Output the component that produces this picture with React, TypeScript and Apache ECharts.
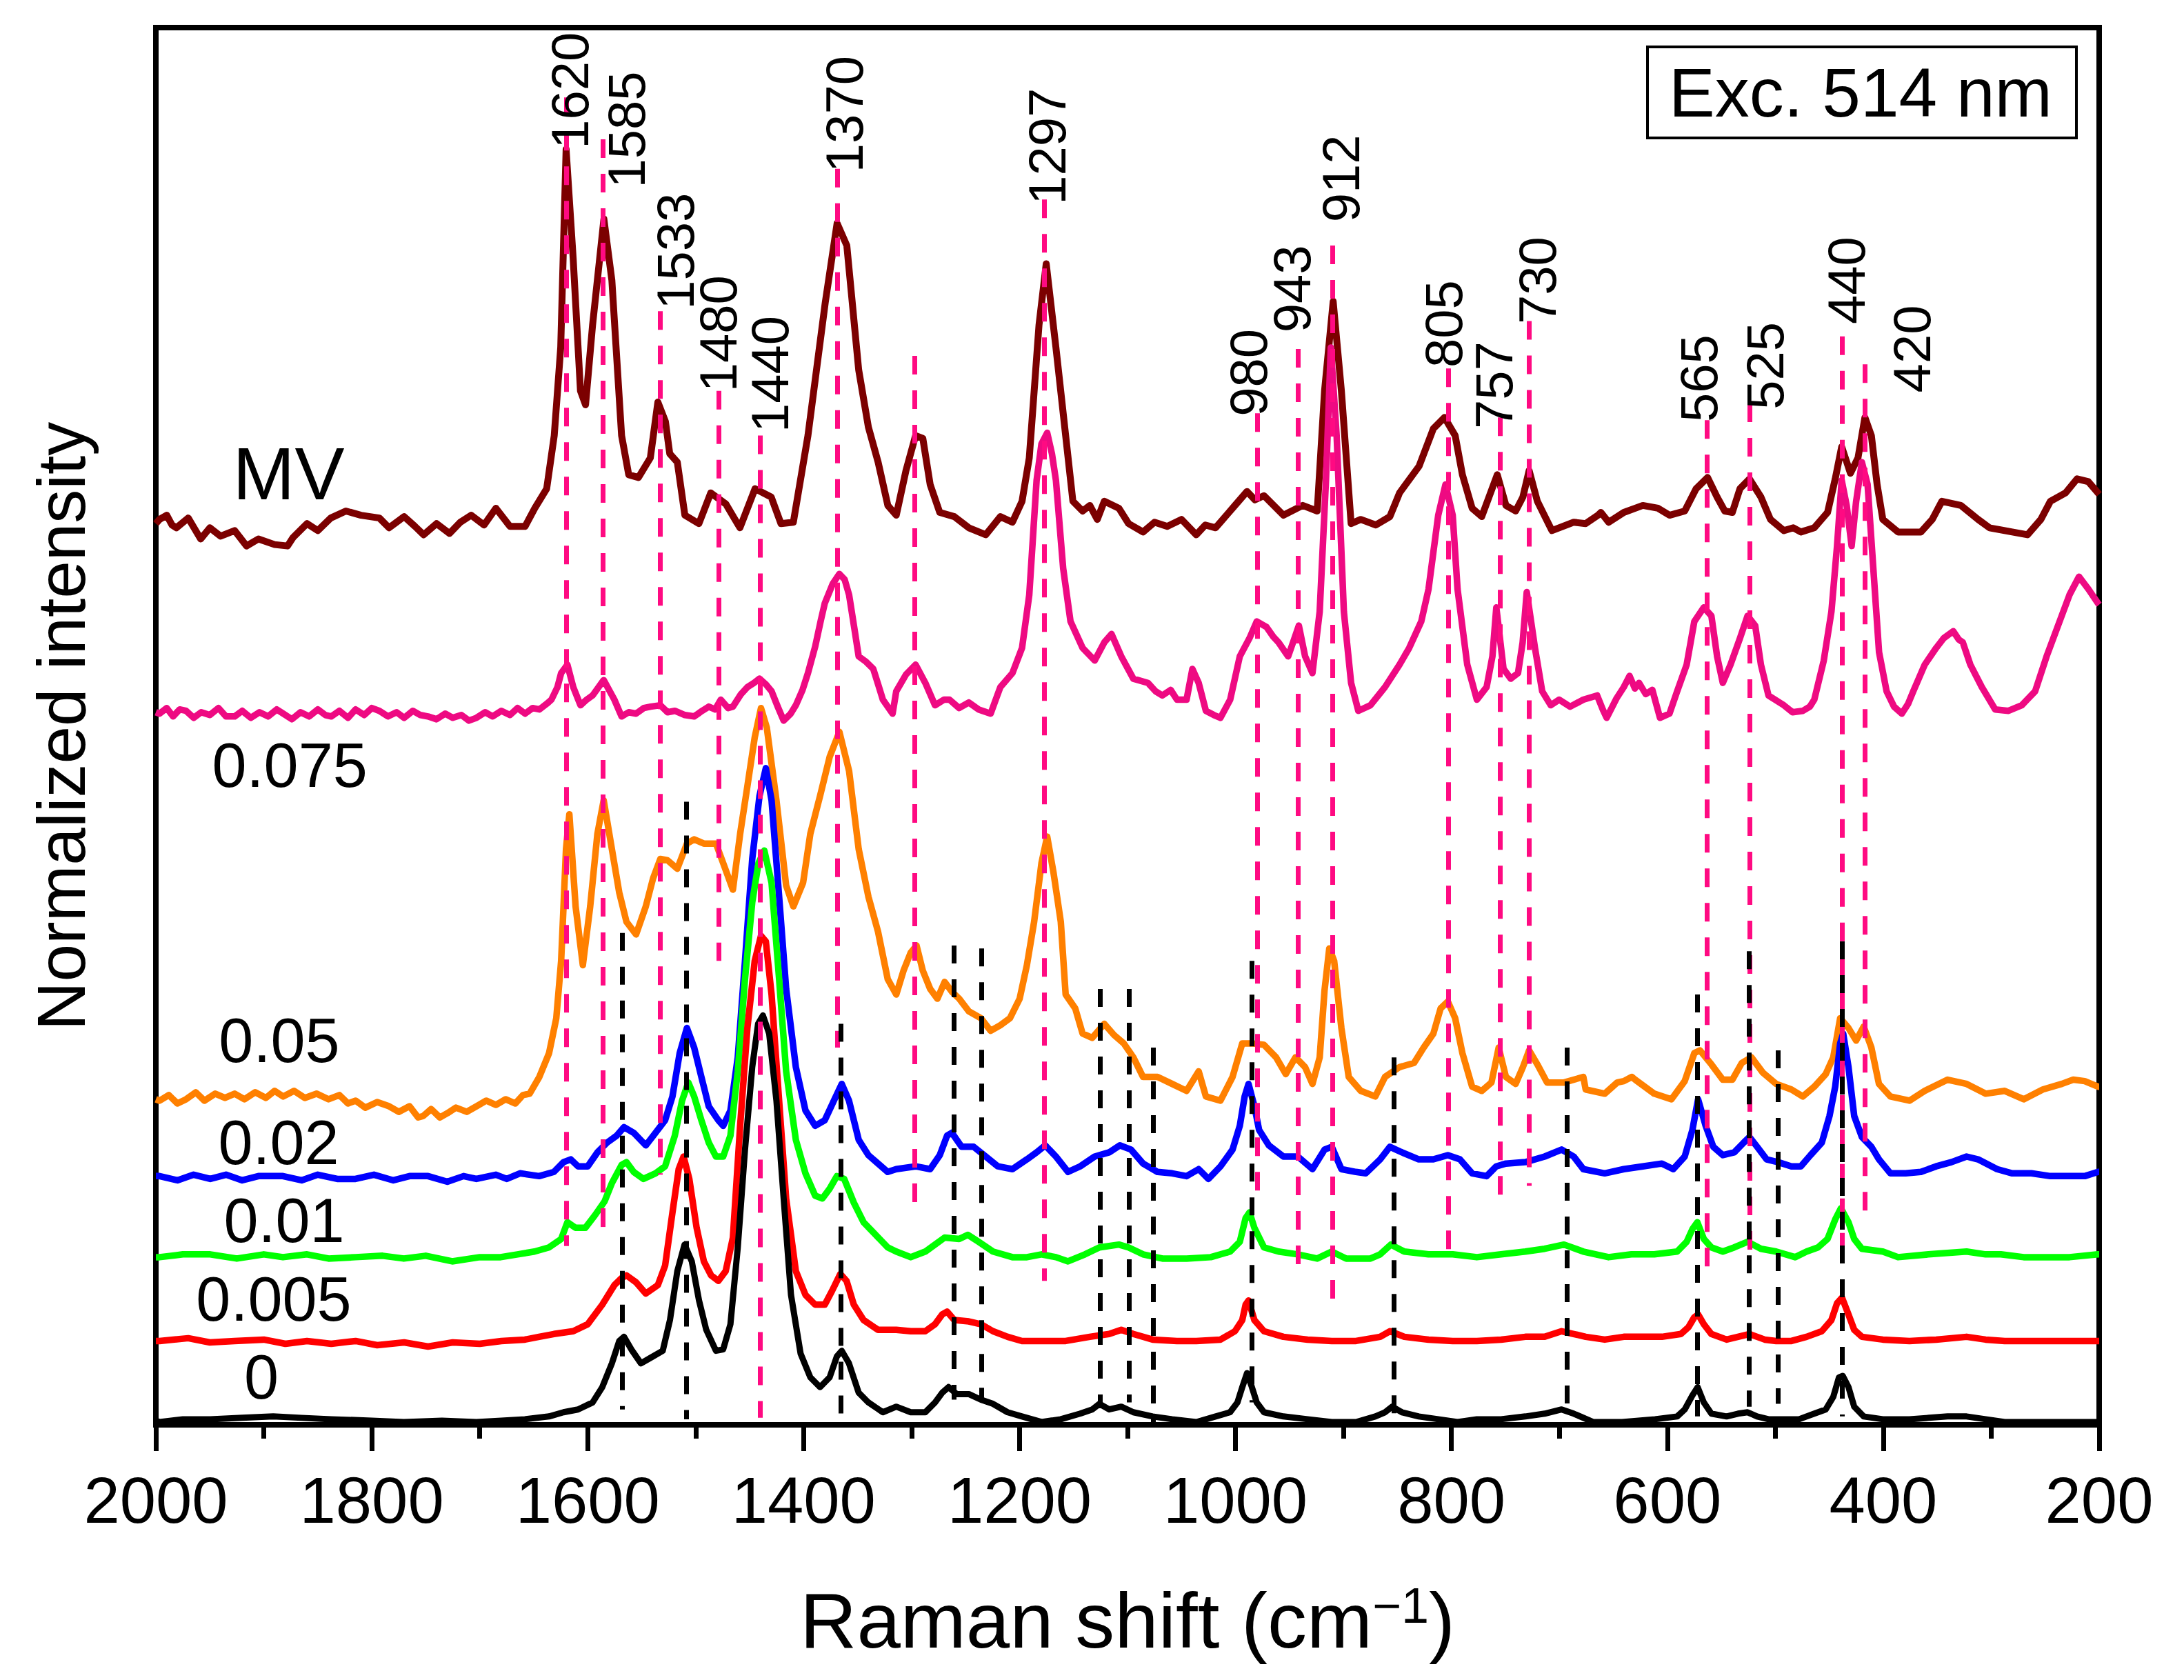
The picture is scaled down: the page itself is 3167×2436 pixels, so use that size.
import React, { useEffect, useRef } from "react";
import * as echarts from "echarts";

// Raman spectra: [Raman shift (cm-1), normalized intensity incl. offset]
const mvData: [number, number][] = [
  [2000, 64.5], [1996.6, 64.8], [1989.9, 65.1], [1985, 64.4], [1981, 64.2], [1970, 64.9], [1958.5, 63.4], [1950, 64.2],
  [1940, 63.6], [1927, 64.0], [1916, 62.9], [1905, 63.4], [1890, 63.0], [1878, 62.9], [1873, 63.5], [1860, 64.5],
  [1850, 64.0], [1838, 64.9], [1824, 65.4], [1810, 65.1], [1793, 64.9], [1784, 64.2], [1770, 65.0], [1760, 64.3],
  [1752, 63.7], [1740, 64.5], [1728, 63.8], [1718, 64.6], [1708, 65.1], [1696, 64.4], [1685, 65.6], [1672, 64.3],
  [1658, 64.3], [1649, 65.6], [1638, 67.0], [1631, 70.8], [1625, 77.1], [1620, 91.3], [1613.4, 83.4], [1606.7, 74.0],
  [1602, 73.0], [1595.5, 78.7], [1585, 86.3], [1577.6, 81.9], [1568.6, 70.8], [1562, 68.0], [1553, 67.8], [1542, 69.2],
  [1535, 73.2], [1528, 71.8], [1524, 69.5], [1517, 68.9], [1510, 65.1], [1497, 64.5], [1486, 66.7], [1472, 65.9],
  [1459, 64.2], [1445, 67.0], [1430, 66.4], [1421, 64.5], [1409.5, 64.6], [1396, 70.8], [1380, 80.3], [1369, 86.0],
  [1360, 84.4], [1349, 75.5], [1340, 71.4], [1331, 68.9], [1322, 65.8], [1314.2, 65.1], [1305.2, 68.3], [1296.3, 70.8],
  [1289.6, 70.6], [1282.8, 67.3], [1273.9, 65.3], [1260.4, 65.0], [1247, 64.2], [1231.3, 63.7], [1217.8, 65.0],
  [1206.6, 64.6], [1197.7, 66.1], [1191, 69.2], [1182, 78.7], [1175.3, 83.1], [1166.3, 77.1], [1157.3, 70.8],
  [1150.6, 66.1], [1141.6, 65.4], [1134.9, 65.8], [1128, 64.8], [1121.5, 66.1], [1108, 65.6], [1099, 64.5],
  [1085.6, 63.9], [1075, 64.6], [1063.2, 64.3], [1050, 64.8], [1036.3, 63.7], [1028, 64.4], [1018.4, 64.2],
  [1000.5, 65.8], [989.3, 66.8], [982, 66.2], [973.6, 66.5], [955.6, 65.1], [937.7, 65.8], [924.3, 65.4],
  [917.5, 74.0], [909.5, 80.4], [901.9, 74.0], [892.9, 64.5], [884, 64.8], [870, 64.4], [857, 65.0], [848, 66.7],
  [830, 68.6], [816.7, 71.3], [806.4, 72.1], [796.5, 70.8], [789.8, 68.0], [780.8, 65.6], [771.9, 65.0], [765.2, 66.4],
  [757.5, 68.0], [749.5, 65.8], [740.5, 65.4], [733.8, 66.4], [728, 68.3], [720.4, 66.1], [706.9, 64.0], [686.7, 64.6],
  [675.6, 64.5], [664.3, 65.1], [661.5, 65.3], [654.4, 64.6], [640.3, 65.3], [622.7, 65.8], [608.6, 65.6], [598, 65.1],
  [583.9, 65.4], [573.3, 67.0], [562.7, 67.8], [553.9, 66.4], [546.8, 65.4], [539.8, 65.3], [532.7, 67.0],
  [523.9, 67.7], [513.3, 66.4], [504.5, 64.8], [492.1, 64.0], [483.3, 64.2], [476.3, 63.9], [463.9, 64.2],
  [451.6, 65.3], [444.5, 67.7], [438.5, 70.0], [430.4, 68.1], [423.4, 69.2], [417, 72.1], [411, 70.8], [405.7, 67.3],
  [400.4, 64.8], [386.3, 63.9], [365.1, 63.9], [354.6, 64.8], [345.7, 66.1], [328.1, 65.8], [312.2, 64.8],
  [301.6, 64.2], [280.5, 63.9], [266.4, 63.7], [254, 64.8], [245.2, 66.1], [231.1, 66.7], [220.5, 67.7], [210, 67.5],
  [201.1, 66.7], [200, 66.6],
];

const c0075Data: [number, number][] = [
  [2000, 51.0], [1996.6, 50.9], [1990, 51.3], [1984, 50.7], [1978, 51.2], [1972, 51.1], [1965, 50.6], [1958, 51.0],
  [1950, 50.8], [1942, 51.3], [1935, 50.7], [1927, 50.7], [1920, 51.1], [1912, 50.6], [1904, 51.0], [1896, 50.7],
  [1888, 51.2], [1882, 50.9], [1874, 50.5], [1866, 51.0], [1858, 50.7], [1850, 51.2], [1843, 50.8], [1837.5, 50.7],
  [1830, 51.1], [1822, 50.6], [1815, 51.2], [1807, 50.8], [1800, 51.3], [1793, 51.1], [1785, 50.7], [1777, 51.0],
  [1770, 50.6], [1762, 51.1], [1755, 50.8], [1748, 50.7], [1740, 50.5], [1732, 50.9], [1725, 50.6], [1717, 50.8],
  [1710, 50.4], [1703, 50.6], [1695, 51.0], [1688, 50.7], [1680, 51.1], [1672, 50.8], [1665, 51.3], [1658, 50.9],
  [1651, 51.3], [1644.8, 51.2], [1638, 51.6], [1633.6, 51.9], [1628, 52.8], [1624.6, 53.8], [1618.8, 54.4],
  [1613.4, 52.8], [1606.7, 51.5], [1601, 51.9], [1595.5, 52.2], [1585.2, 53.3], [1575.3, 51.9], [1568.6, 50.7],
  [1562, 51.0], [1555.2, 50.9], [1548, 51.3], [1541.7, 51.4], [1532.7, 51.5], [1526, 51.0], [1519.3, 51.1],
  [1510, 50.8], [1501.4, 50.7], [1494, 51.1], [1487.9, 51.4], [1482, 51.2], [1476.7, 51.9], [1470, 51.3],
  [1465.5, 51.4], [1458, 52.3], [1452, 52.8], [1446, 53.1], [1440.9, 53.4], [1435, 53.0], [1429.7, 52.5],
  [1424, 51.4], [1418.5, 50.4], [1412, 50.9], [1407.2, 51.5], [1401, 52.6], [1396, 53.8], [1389.3, 55.7],
  [1384, 57.6], [1380.4, 58.8], [1373, 60.2], [1366.9, 60.9], [1362, 60.5], [1357.9, 59.4], [1353, 57.0], [1349, 55.0],
  [1342, 54.6], [1335.5, 54.1], [1331, 53.0], [1326.6, 51.9], [1317.6, 50.9], [1314.2, 52.5], [1305.2, 53.7],
  [1296.3, 54.4], [1287.3, 53.1], [1278.3, 51.5], [1270, 51.9], [1264.9, 51.9], [1256, 51.3], [1247, 51.7],
  [1238, 51.2], [1226.8, 50.9], [1217.8, 52.8], [1206.6, 53.8], [1197.7, 55.6], [1191, 59.4], [1184.2, 67.6],
  [1179.7, 70.2], [1174.4, 71.0], [1170, 69.5], [1166.3, 67.6], [1159.6, 61.3], [1152.8, 57.5], [1141.6, 55.6],
  [1130.4, 54.7], [1121.5, 56.0], [1114.8, 56.6], [1105.8, 55.0], [1094.6, 53.4], [1081.1, 53.1], [1074, 52.5],
  [1067.7, 52.2], [1060, 52.6], [1054.2, 51.9], [1045.3, 51.9], [1039.9, 54.1], [1034.1, 53.1], [1027.4, 51.1],
  [1020, 50.8], [1013.9, 50.6], [1004.9, 51.9], [996, 55.0], [987, 56.3], [980.3, 57.5], [971.3, 57.1], [965, 56.4],
  [960.1, 56.0], [951.2, 55.0], [946.7, 56.0], [941.3, 57.2], [935.5, 55.0], [928.7, 53.8], [922, 58.2],
  [916.2, 67.6], [911.7, 77.1], [906.3, 70.8], [899.6, 58.2], [892.9, 53.1], [886.2, 51.1], [875, 51.5],
  [861.5, 52.8], [848.1, 54.4], [839.1, 55.6], [827.9, 57.5], [821.2, 59.8], [812.2, 65.1], [805.5, 67.3],
  [798.8, 65.1], [794.3, 59.8], [785.3, 54.4], [776.4, 51.9], [767.4, 52.8], [762, 55.0], [758.4, 58.5],
  [751.7, 54.1], [745, 53.4], [738.3, 53.8], [734, 56.0], [730.2, 59.6], [722.6, 55.6], [715.9, 52.5], [708, 51.5],
  [700.2, 51.9], [690, 51.4], [677.8, 51.9], [665, 52.2], [659.8, 51.2], [656.2, 50.6], [647, 52.0], [640.3, 52.8],
  [635, 53.6], [630, 52.7], [626.2, 53.1], [620, 52.3], [613.9, 52.6], [606.8, 50.6], [598, 50.9], [590.9, 52.5],
  [582.1, 54.4], [575, 57.5], [566.2, 58.5], [559.2, 57.9], [553.9, 55.0], [548.6, 53.1], [541.5, 54.4],
  [532.7, 56.3], [525.7, 57.9], [518.6, 57.2], [513.3, 54.4], [506.3, 52.2], [492.1, 51.5], [484, 51.0],
  [474.5, 51.1], [468, 51.4], [463.9, 51.9], [455.1, 54.7], [448, 58.2], [442.8, 62.9], [438.5, 67.6], [433.9, 65.8],
  [429.3, 62.9], [425.1, 66.1], [419.8, 68.9], [414.5, 67.3], [409.2, 61.3], [403.9, 55.3], [396.9, 52.5],
  [390, 51.4], [382.8, 50.9], [377, 51.6], [372.2, 52.5], [361.6, 54.4], [351, 55.6], [344, 56.3], [335.2, 56.8],
  [330, 56.2], [326.3, 56.0], [319.3, 54.4], [308.7, 52.8], [296.3, 51.2], [284, 51.1], [271.7, 51.5], [259.3, 52.5],
  [248.7, 55.0], [238.1, 57.2], [227.5, 59.4], [218.7, 60.7], [209.9, 59.8], [201.1, 58.8], [200, 58.7],
];

const c005Data: [number, number][] = [
  [2000, 23.3], [1996.6, 23.2], [1988, 23.6], [1980, 23.0], [1972, 23.3], [1963, 23.8], [1955, 23.2], [1945, 23.7],
  [1936, 23.4], [1927, 23.7], [1918, 23.3], [1908, 23.8], [1898, 23.4], [1890, 23.9], [1882, 23.5], [1872, 23.9],
  [1862, 23.4], [1851, 23.7], [1840, 23.3], [1830, 23.6], [1822, 23.0], [1815, 23.2], [1806, 22.7], [1795, 23.1],
  [1784, 22.8], [1775, 22.4], [1765, 22.8], [1757, 22.0], [1752.4, 22.1], [1745, 22.6], [1737, 22.0], [1730, 22.3],
  [1722, 22.7], [1712, 22.4], [1703, 22.8], [1694, 23.2], [1685, 22.9], [1676, 23.3], [1667, 23.0], [1660, 23.6],
  [1653.8, 23.7], [1644.8, 24.9], [1635.8, 26.6], [1629.1, 29.1], [1624.6, 33.2], [1620.1, 41.2], [1617, 43.7],
  [1611.2, 37.1], [1604.5, 32.9], [1597.7, 37.1], [1591, 42.3], [1585.2, 44.7], [1577.6, 41.2], [1570.8, 38.1],
  [1564.1, 36.0], [1555.2, 35.1], [1546.2, 37.1], [1539.5, 39.1], [1532.7, 40.5], [1526, 40.4], [1517, 39.8],
  [1508.1, 41.6], [1501.4, 41.9], [1492.4, 41.6], [1481.2, 41.6], [1474.5, 40.2], [1465.5, 38.3], [1458.8, 42.3],
  [1452.1, 45.7], [1445.3, 49.2], [1439.5, 51.3], [1434.1, 49.9], [1425.2, 44.7], [1416.2, 38.6], [1409.5, 37.1],
  [1400.5, 38.8], [1393.8, 42.3], [1384.8, 45.0], [1375.9, 47.8], [1366.9, 49.6], [1357.9, 46.8], [1349, 41.2],
  [1340, 37.8], [1331.1, 35.3], [1322.1, 31.9], [1314.2, 30.8], [1307.5, 32.5], [1300.8, 33.8], [1295.4, 34.3],
  [1289.6, 32.5], [1282.8, 31.2], [1276.1, 30.5], [1269.4, 31.7], [1262.7, 31.0], [1255.9, 30.5], [1247, 29.6],
  [1235.8, 29.1], [1226.8, 28.2], [1217.8, 28.6], [1208.9, 29.1], [1199.9, 30.5], [1193.2, 32.9], [1186.5, 36.0],
  [1179.7, 40.2], [1174.4, 42.1], [1168.5, 39.5], [1161.8, 36.0], [1157.3, 30.8], [1148.4, 29.8], [1141.6, 28.0],
  [1132.7, 27.7], [1121.5, 28.7], [1112.5, 27.9], [1103.5, 27.3], [1094.6, 26.3], [1085.6, 24.9], [1072.2, 24.9],
  [1058.7, 24.4], [1045.3, 23.9], [1034.1, 25.3], [1027.4, 23.5], [1013.9, 23.2], [1002.7, 24.9], [993.7, 27.3],
  [984.8, 27.3], [973.6, 27.2], [962.4, 26.3], [953.4, 25.1], [944.4, 26.3], [935.5, 25.6], [928.7, 24.4], [922, 26.3],
  [917.5, 31.1], [913.1, 34.1], [908.6, 33.2], [901.9, 28.4], [895.1, 24.9], [883.9, 23.9], [870.5, 23.5],
  [861.5, 24.9], [848.1, 25.6], [834.6, 25.9], [825.7, 27.0], [816.7, 28.0], [810, 29.8], [803.3, 30.3], [796.5, 29.1],
  [789.8, 26.6], [780.8, 24.2], [771.9, 23.9], [762.9, 24.5], [756.2, 27.0], [749.5, 24.9], [740.5, 24.4],
  [733.8, 25.6], [728, 26.8], [720.4, 25.8], [711.4, 24.5], [695.7, 24.5], [677.8, 24.9], [675.6, 24.0], [658, 23.7],
  [646.4, 24.5], [640.3, 24.6], [632.9, 24.9], [629.7, 24.7], [612.1, 23.7], [596.2, 23.3], [583.9, 24.6], [575, 26.6],
  [569.8, 26.8], [559.2, 25.8], [548.6, 24.7], [539.8, 24.7], [531, 25.9], [522.1, 26.3], [511.5, 25.2], [499.2, 24.4],
  [485.1, 24.0], [474.5, 23.5], [463.9, 24.2], [453.3, 25.1], [446.3, 26.3], [439.9, 29.1], [432.2, 28.4],
  [425.1, 27.5], [418.1, 28.5], [411, 27.0], [404, 24.4], [393.4, 23.5], [375.7, 23.2], [361.6, 23.9], [340.4, 24.7],
  [322.8, 24.4], [305.2, 23.7], [287.5, 23.9], [269.9, 23.3], [252.2, 24.0], [234.6, 24.4], [224, 24.7], [213.4, 24.6],
  [201.1, 24.2], [200, 24.2],
];

const c002Data: [number, number][] = [
  [2000, 17.8], [1996.6, 17.8], [1980, 17.5], [1965, 17.9], [1949.6, 17.6], [1935, 17.9], [1920, 17.5], [1905, 17.8],
  [1882.3, 17.8], [1865, 17.5], [1850, 17.9], [1832, 17.6], [1815.1, 17.6], [1798, 17.9], [1780, 17.5], [1765, 17.8],
  [1747.9, 17.8], [1730, 17.4], [1715, 17.8], [1703.1, 17.6], [1685, 17.9], [1675, 17.6], [1662.7, 18.0], [1645, 17.8],
  [1631.3, 18.1], [1622.4, 18.8], [1615.7, 19.0], [1609, 18.5], [1600, 18.5], [1591, 19.5], [1582, 20.2],
  [1573.1, 20.7], [1566.4, 21.3], [1557.4, 20.9], [1546.2, 20.0], [1537.2, 20.9], [1528.3, 21.8], [1521.5, 23.5],
  [1514.8, 26.6], [1508.1, 28.4], [1501.4, 27.0], [1494.7, 24.9], [1487.9, 22.8], [1479, 21.8], [1474.5, 21.4],
  [1467.8, 22.5], [1461, 26.3], [1454.3, 33.2], [1447.6, 40.5], [1440.9, 45.0], [1435, 47.0], [1429.7, 44.7],
  [1423, 38.1], [1416.2, 31.2], [1407.2, 25.6], [1398.3, 22.5], [1389.3, 21.4], [1380.4, 21.8], [1371.4, 23.3],
  [1364.7, 24.4], [1358, 23.2], [1349, 20.4], [1340, 19.3], [1331.1, 18.7], [1322.1, 18.1], [1314.2, 18.3],
  [1296.3, 18.5], [1282.8, 18.3], [1273.9, 19.3], [1267.1, 20.7], [1262.7, 20.9], [1253.7, 19.9], [1242.5, 19.9],
  [1231.3, 19.2], [1220.1, 18.5], [1206.6, 18.3], [1193.2, 19.0], [1184.2, 19.5], [1176.2, 20.0], [1166.3, 19.2],
  [1155.1, 18.1], [1143.9, 18.5], [1130.4, 19.2], [1117, 19.5], [1107.1, 20.0], [1096.8, 19.7], [1085.6, 18.7],
  [1072.2, 18.1], [1058.7, 18.0], [1045.3, 17.8], [1034.1, 18.3], [1025.1, 17.6], [1013.9, 18.5], [1002.7, 19.7],
  [996, 21.4], [991.5, 23.5], [987.9, 24.4], [982.5, 22.8], [978.1, 21.1], [969.1, 20.0], [955.6, 19.2],
  [942.2, 19.2], [928.7, 18.3], [917.5, 19.7], [910.8, 19.9], [901.9, 18.3], [888.4, 18.1], [879.4, 18.0], [866, 19.0],
  [857, 19.9], [845.8, 19.5], [830.2, 19.0], [816.7, 19.0], [803.3, 19.3], [792.1, 19.0], [780.8, 18.0], [767.4, 17.8],
  [758.4, 18.5], [749.5, 18.7], [731.5, 18.8], [713.6, 19.2], [697.9, 19.7], [686.7, 19.2], [677.8, 18.3], [658, 18.0],
  [640.3, 18.3], [622.7, 18.5], [605, 18.7], [594.5, 18.3], [583.9, 19.2], [576.8, 21.1], [571.5, 23.3], [564.5, 21.4],
  [557.4, 19.9], [548.6, 19.3], [538, 19.5], [529.2, 20.2], [523.9, 20.6], [516.8, 19.9], [508, 19.0], [497.4, 18.8],
  [485.1, 18.5], [476.3, 18.5], [467.4, 19.3], [456.9, 20.2], [449.8, 22.1], [444.5, 24.2], [439.9, 27.3],
  [437.1, 28.0], [432.2, 25.6], [426.9, 22.1], [419.8, 20.6], [411, 19.9], [404, 19.0], [393.4, 18.0], [379.2, 18.0],
  [365.1, 18.1], [351, 18.5], [336.9, 18.8], [322.8, 19.2], [312.2, 19.0], [294.6, 18.3], [280.5, 18.0], [262.8, 18.0],
  [245.2, 17.8], [227.5, 17.8], [213.4, 17.8], [201.1, 18.1], [200, 18.1],
];

const c001Data: [number, number][] = [
  [2000, 12.0], [1996.6, 12.0], [1975, 12.2], [1949.6, 12.2], [1925, 11.9], [1900, 12.2], [1882.3, 12.0], [1860, 12.2],
  [1840, 11.9], [1815.1, 12.0], [1790, 12.1], [1770.3, 11.9], [1750, 12.1], [1725.5, 11.7], [1700, 12.0],
  [1680.7, 12.0], [1665, 12.2], [1649.3, 12.4], [1635.8, 12.7], [1624.6, 13.3], [1618.8, 14.5], [1611.2, 14.1],
  [1602.2, 14.1], [1593.3, 15.0], [1584.3, 16.0], [1577.6, 17.3], [1568.6, 18.6], [1564.1, 18.8], [1557.4, 18.1],
  [1548.4, 17.6], [1537.2, 18.0], [1528.3, 18.5], [1519.3, 20.7], [1512.6, 23.2], [1506.8, 24.5], [1501.4, 23.5],
  [1494.7, 21.8], [1487.9, 20.2], [1481.2, 19.2], [1474.5, 19.2], [1467.8, 20.7], [1461, 25.3], [1454.3, 31.9],
  [1447.6, 37.4], [1441.8, 40.2], [1436.4, 41.1], [1429.7, 38.8], [1423, 32.2], [1416.2, 25.3], [1407.2, 20.4],
  [1398.3, 18.0], [1389.3, 16.4], [1382.6, 16.2], [1375.9, 16.9], [1369.2, 17.8], [1362.4, 17.6], [1353.5, 15.9],
  [1344.5, 14.5], [1333.3, 13.6], [1322.1, 12.7], [1314.2, 12.4], [1300.8, 12.0], [1287.3, 12.4], [1278.3, 12.9],
  [1269.4, 13.4], [1255.9, 13.3], [1247.9, 13.6], [1238, 13.1], [1224.6, 12.4], [1206.6, 12.0], [1193.2, 12.0],
  [1179.7, 12.2], [1166.3, 12.0], [1155.1, 11.7], [1139.4, 12.2], [1126, 12.7], [1108, 12.9], [1099.1, 12.7],
  [1085.6, 12.2], [1067.7, 11.9], [1045.3, 11.9], [1022.9, 12.0], [1004.9, 12.4], [996, 13.1], [990.6, 14.8],
  [987, 15.2], [982.5, 14.1], [973.6, 12.7], [960.1, 12.4], [942.2, 12.2], [924.3, 11.9], [910.8, 12.4],
  [897.4, 11.9], [875, 11.9], [866, 12.2], [856.1, 12.9], [843.6, 12.4], [821.2, 12.2], [798.8, 12.2], [776.4, 12.0],
  [754, 12.2], [731.5, 12.4], [713.6, 12.6], [695.7, 12.9], [677.8, 12.4], [654.4, 12.0], [633.3, 12.2],
  [612.1, 12.2], [590.9, 12.4], [582.1, 13.1], [576.8, 14.0], [572.2, 14.5], [566.2, 13.3], [559.2, 12.7],
  [548.6, 12.4], [538, 12.7], [525.7, 13.1], [513.3, 12.6], [499.2, 12.4], [481.6, 12.0], [471, 12.4], [460.4, 12.7],
  [451.6, 13.3], [444.5, 14.7], [439.2, 15.5], [432.2, 14.5], [426.9, 13.3], [419.8, 12.6], [400.4, 12.4],
  [386.3, 12.0], [358.1, 12.2], [322.8, 12.4], [305.2, 12.2], [291.1, 12.2], [269.9, 12.0], [252.2, 12.0],
  [227.5, 12.0], [201.1, 12.2], [200, 12.2],
];

const c0005Data: [number, number][] = [
  [2000, 6.0], [1996.6, 6.0], [1970, 6.2], [1950, 5.9], [1927.2, 6.0], [1900, 6.1], [1880, 5.8], [1860, 6.0],
  [1837.5, 5.8], [1815, 6.0], [1795, 5.7], [1770, 5.9], [1747.9, 5.6], [1725, 5.9], [1700, 5.8], [1680, 6.0],
  [1658.2, 6.1], [1645, 6.3], [1631.3, 6.5], [1613.4, 6.7], [1600, 7.2], [1586.5, 8.6], [1575.3, 10.0],
  [1568.6, 10.5], [1564.1, 10.7], [1555.2, 10.2], [1546.2, 9.4], [1535, 10.0], [1528.3, 11.4], [1521.5, 15.2],
  [1515.7, 18.3], [1511.2, 19.2], [1505.9, 17.6], [1499.1, 14.1], [1492.4, 11.7], [1485.7, 10.7], [1479, 10.3],
  [1472.2, 11.0], [1465.5, 13.4], [1458.8, 21.4], [1452.1, 28.4], [1445.3, 33.2], [1439.5, 35.0], [1435, 34.6],
  [1429.7, 30.8], [1423, 23.5], [1416.2, 16.2], [1407.2, 11.0], [1398.3, 9.3], [1389.3, 8.6], [1380.4, 8.6],
  [1373.6, 9.6], [1366, 10.8], [1360.2, 10.3], [1353.5, 8.6], [1344.5, 7.5], [1331.1, 6.8], [1314.2, 6.8],
  [1300.8, 6.7], [1287.3, 6.7], [1278.3, 7.2], [1271.6, 7.9], [1267.1, 8.1], [1260.4, 7.5], [1247, 7.4],
  [1235.8, 7.2], [1224.6, 6.7], [1211.1, 6.3], [1197.7, 6.0], [1179.7, 6.0], [1157.3, 6.0], [1134.9, 6.3],
  [1117, 6.5], [1105.8, 6.8], [1094.6, 6.5], [1076.7, 6.1], [1054.2, 6.0], [1036.3, 6.0], [1013.9, 6.1],
  [1000.5, 6.7], [993.7, 7.5], [990.6, 8.6], [987.9, 8.9], [982.5, 7.5], [973.6, 6.7], [955.6, 6.3], [933.2, 6.1],
  [910.8, 6.0], [888.4, 6.0], [866, 6.3], [857, 6.7], [843.6, 6.3], [821.2, 6.1], [798.8, 6.0], [776.4, 6.0],
  [754, 6.1], [731.5, 6.3], [713.6, 6.3], [697.9, 6.7], [686.7, 6.5], [675.6, 6.3], [658, 6.1], [640.3, 6.3],
  [622.7, 6.3], [605, 6.3], [587.4, 6.5], [580.3, 7.0], [575, 7.7], [571.5, 7.9], [566.2, 7.2], [559.2, 6.5],
  [545.1, 6.1], [534.5, 6.3], [523.9, 6.5], [509.8, 6.1], [499.2, 6.0], [485.1, 6.0], [471, 6.3], [456.9, 6.7],
  [448, 7.5], [442.8, 8.7], [438.2, 9.1], [432.2, 7.9], [426.9, 6.8], [419.8, 6.3], [400.4, 6.1], [375.7, 6.0],
  [351, 6.1], [322.8, 6.3], [305.2, 6.1], [287.5, 6.0], [269.9, 6.0], [234.6, 6.0], [201.1, 6.0], [200, 6.0],
];

const c0Data: [number, number][] = [
  [2000, 0.3], [1996.6, 0.2], [1975, 0.4], [1949.6, 0.4], [1920, 0.5], [1891.3, 0.6], [1865, 0.5], [1837.5, 0.4],
  [1800, 0.3], [1770.3, 0.2], [1735, 0.3], [1703.1, 0.2], [1680, 0.3], [1658.2, 0.4], [1635.8, 0.6], [1622.4, 0.9],
  [1609, 1.1], [1595.5, 1.6], [1586.5, 2.7], [1577.6, 4.4], [1570.8, 6.0], [1566.4, 6.3], [1559.6, 5.4],
  [1550.7, 4.4], [1541.7, 4.8], [1530.5, 5.3], [1523.8, 7.5], [1517, 11.0], [1510.3, 12.9], [1503.6, 11.7],
  [1496.9, 8.9], [1490.2, 6.8], [1481.2, 5.3], [1474.5, 5.4], [1467.8, 7.2], [1461, 12.7], [1454.3, 19.7],
  [1447.6, 25.6], [1442.2, 28.7], [1437.7, 29.3], [1431.9, 28.0], [1425.2, 23.2], [1418.5, 16.2], [1411.7, 9.3],
  [1402.8, 5.1], [1393.8, 3.4], [1384.8, 2.7], [1375.9, 3.4], [1369.2, 4.9], [1364.7, 5.3], [1358, 4.4], [1349, 2.3],
  [1340, 1.6], [1326.6, 0.9], [1314.2, 1.3], [1300.8, 0.9], [1287.3, 0.9], [1278.3, 1.6], [1271.6, 2.3],
  [1265.8, 2.7], [1258.2, 2.2], [1247, 2.2], [1235.8, 1.8], [1224.6, 1.5], [1211.1, 0.9], [1197.7, 0.6],
  [1179.7, 0.2], [1161.8, 0.4], [1143.9, 0.8], [1132.7, 1.1], [1126, 1.5], [1117, 1.1], [1105.8, 1.3], [1094.6, 0.9],
  [1076.7, 0.6], [1058.7, 0.4], [1036.3, 0.2], [1018.4, 0.6], [1005, 0.9], [998.2, 1.6], [993.7, 2.7], [989.3, 3.7],
  [984.8, 2.7], [980.3, 1.6], [973.6, 0.9], [955.6, 0.6], [933.2, 0.4], [910.8, 0.2], [888.4, 0.2], [870.5, 0.6],
  [861.5, 0.9], [854.8, 1.3], [845.8, 0.9], [830.2, 0.6], [812.2, 0.4], [794.3, 0.2], [776.4, 0.4], [754, 0.4],
  [731.5, 0.6], [713.6, 0.8], [697.9, 1.1], [686.7, 0.8], [668.8, 0.2], [641.9, 0.2], [611.4, 0.4], [590.9, 0.6],
  [583.9, 1.1], [576.8, 2.1], [571.9, 2.7], [566.2, 1.6], [559.2, 0.8], [545.1, 0.6], [534.5, 0.8], [525.7, 0.9],
  [516.8, 0.6], [506.3, 0.4], [478, 0.4], [463.9, 0.8], [453.3, 1.1], [446.3, 2.0], [441, 3.4], [437.5, 3.5],
  [432.2, 2.7], [426.9, 1.3], [418.1, 0.6], [400.4, 0.4], [375.7, 0.4], [340.4, 0.6], [322.8, 0.6], [305.2, 0.4],
  [287.5, 0.2], [252.2, 0.2], [200, 0.2],
];

// spectrum name -> data, colour
const spectra = [
  { name: "MV", data: mvData, color: "#7c0000", width: 10 },
  { name: "0.075", data: c0075Data, color: "#ee0a82", width: 9.5 },
  { name: "0.05", data: c005Data, color: "#ff8000", width: 9.5 },
  { name: "0.02", data: c002Data, color: "#0000ff", width: 9.5 },
  { name: "0.01", data: c001Data, color: "#00ff00", width: 9.5 },
  { name: "0.005", data: c0005Data, color: "#ff0000", width: 9.5 },
  { name: "0", data: c0Data, color: "#000000", width: 9 },
];

// dashed guide lines: [position, top, bottom]
const pinkGuides: [number, number, number][] = [
  [1619.5, 95.0, 12.8], [1585.9, 92.0, 13.6], [1533, 79.7, 17.9], [1478.8, 74.0, 33.2], [1440, 70.8, 0.5],
  [1369, 89.9, 27.0], [1297, 76.5, 15.0], [1177, 87.7, 10.3], [980, 72.4, 15.8], [942, 77.0, 10.5],
  [910, 84.4, 8.2], [803, 75.6, 11.7], [755, 72.1, 15.4], [728, 79.0, 17.1], [563, 71.9, 10.3],
  [524, 73.1, 11.4], [438, 77.9, 11.7], [417, 75.9, 14.3],
];
const blackGuides: [number, number, number][] = [
  [1567.8, 35.2, 1.1], [1508.5, 44.6, 0.4], [1365.3, 28.7, 0.1], [1260.8, 34.3, 1.8], [1235, 34.1, 1.8],
  [1125.4, 31.2, 1.6], [1098.3, 31.2, 1.6], [1076.4, 27.0, 0.1], [984.8, 33.2, 1.6], [853.2, 26.3, 0.2],
  [693.2, 27.0, 0.8], [572, 30.8, 0.6], [524.2, 33.9, 1.3], [497.2, 26.8, 1.5], [437.8, 34.6, 0.6],
];

// band labels (rotated): [text, x, y]
const bandLabels: [string, number, number][] = [
  ["1620", 1616.7, 95.5], ["1585", 1564, 92.7], ["1533", 1519, 84.0], ["1480", 1478.8, 78.1],
  ["1440", 1431.5, 75.2], ["1370", 1362.5, 93.8], ["1297", 1174.7, 91.5], ["980", 988.2, 75.3],
  ["943", 947.9, 81.3], ["912", 902.6, 89.2], ["805", 807.4, 78.8], ["757", 760.2, 74.4], ["730", 720, 81.9],
  ["565", 571.1, 74.9], ["525", 509.2, 75.8], ["440", 433.8, 81.9], ["420", 373.7, 77.0],
];

// spectrum names written next to each trace: [text, x, y]
const traceLabels: [string, number, number][] = [
  ["MV", 1877, 68.1], ["0.075", 1876, 47.2], ["0.05", 1885.7, 27.5], ["0.02", 1886.3, 20.2],
  ["0.01", 1881.2, 14.6], ["0.005", 1890.8, 9.0], ["0", 1902.3, 3.4],
];

const FONT = '"Liberation Sans", Arial, sans-serif';

const App: React.FC = () => {
  const chartRef = useRef<HTMLDivElement>(null);

  useEffect(() => {
    if (!chartRef.current) return;
    const chart = echarts.init(chartRef.current, undefined, { renderer: "svg" });

    const curves = spectra.map((s) => ({
      name: s.name,
      type: "line",
      data: s.data,
      symbol: "none",
      showSymbol: false,
      silent: true,
      z: 2,
      lineStyle: { color: s.color, width: s.width, join: "round" },
      itemStyle: { color: s.color },
    }));

    const guides = (rows: [number, number, number][], color: string, dash: number[]) => ({
      type: "lines",
      coordinateSystem: "cartesian2d",
      silent: true,
      z: 4,
      lineStyle: { color, width: 7, type: dash, opacity: 1, cap: "butt" },
      data: rows.map(([x, a, b]) => ({ coords: [[x, a], [x, b]] })),
    });

    chart.setOption({
      animation: false,
      backgroundColor: "#fff",
      grid: {
        left: 226,
        top: 40,
        width: 2818,
        height: 2026,
        show: true,
        borderColor: "#000",
        borderWidth: 8,
      },
      xAxis: {
        type: "value",
        min: 200,
        max: 2000,
        interval: 200,
        inverse: true,
        axisLine: { show: true, lineStyle: { color: "#000", width: 8 } },
        axisTick: { show: true, inside: false, length: 38, lineStyle: { color: "#000", width: 7 } },
        minorTick: { show: true, splitNumber: 2, length: 20, lineStyle: { color: "#000", width: 7 } },
        splitLine: { show: false },
        minorSplitLine: { show: false },
        axisLabel: {
          fontSize: 94,
          color: "#000",
          margin: 62,
          fontFamily: FONT,
          formatter: (v: number) => String(v),
        },
        name: "Raman shift (cm{sup|\u22121})",
        nameLocation: "middle",
        nameGap: 226,
        nameTextStyle: {
          fontSize: 114,
          color: "#000",
          fontFamily: FONT,
          rich: { sup: { fontSize: 72, verticalAlign: "top", color: "#000", fontFamily: FONT } },
        },
      },
      yAxis: {
        type: "value",
        min: 0,
        max: 100,
        axisLine: { show: true, lineStyle: { color: "#000", width: 8 } },
        axisTick: { show: false },
        axisLabel: { show: false },
        splitLine: { show: false },
        name: "Normalized intensity",
        nameLocation: "middle",
        nameRotate: 90,
        nameGap: 88,
        nameTextStyle: { fontSize: 98, color: "#000", fontFamily: FONT },
      },
      graphic: [
        {
          type: "rect",
          left: 2387,
          top: 66,
          z: 100,
          shape: { width: 622, height: 132 },
          style: { fill: "#fff", stroke: "#000", lineWidth: 4 },
        },
        {
          type: "text",
          x: 2698,
          y: 134,
          z: 101,
          style: {
            text: "Exc. 514 nm",
            font: `100px ${FONT}`,
            fill: "#000",
            textAlign: "center",
            textVerticalAlign: "middle",
          },
        },
      ],
      series: [
        ...curves,
        guides(pinkGuides, "#ff0a82", [27, 23]),
        guides(blackGuides, "#000000", [26, 23]),
        {
          type: "scatter",
          symbolSize: 0,
          silent: true,
          z: 6,
          itemStyle: { opacity: 1 },
          data: bandLabels.map(([t, x, y]) => ({ name: t, value: [x, y] })),
          label: {
            show: true,
            position: "inside",
            rotate: 90,
            formatter: "{b}",
            fontSize: 76,
            color: "#000",
            opacity: 1,
            fontFamily: FONT,
          },
        },
        {
          type: "scatter",
          symbolSize: 0,
          silent: true,
          z: 6,
          itemStyle: { opacity: 1 },
          data: traceLabels.map(([t, x, y]) => ({
            name: t,
            value: [x, y],
            label: t === "MV" ? { fontSize: 108 } : undefined,
          })),
          label: {
            show: true,
            position: "inside",
            formatter: "{b}",
            fontSize: 90,
            color: "#000",
            opacity: 1,
            fontFamily: FONT,
          },
        },
      ],
    });

    return () => {
      chart.dispose();
    };
  }, []);

  return (
    <div
      ref={chartRef}
      style={{ position: "absolute", left: 0, top: 0, width: 3167, height: 2436 }}
    />
  );
};

export default App;
